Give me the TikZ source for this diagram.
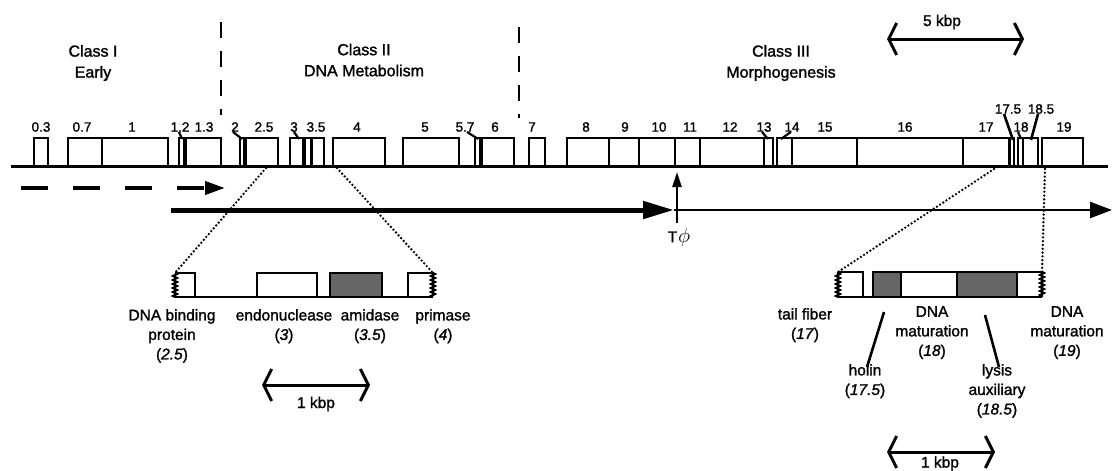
\documentclass[tikz,border=0pt]{standalone}
\usepackage{fontspec}
\setmainfont{Liberation Sans}[FakeBold=1.4]
\usetikzlibrary{arrows.meta,decorations.pathmorphing}
\begin{document}
\begin{tikzpicture}[
    x=1pt, y=-1pt,
    gene/.style={draw, line width=2.4pt},
    dna/.style={line width=3pt},
    shaded/.style={fill=black!60},
    wavy/.style={line width=2.2pt, decorate, decoration={zigzag, segment length=4pt, amplitude=2pt}},
    num/.style={font=\fontsize{13.5}{15}\selectfont, inner sep=0pt},
    cls/.style={align=center, font=\fontsize{16}{21}\selectfont, inner sep=0pt},
    desc/.style={align=center, anchor=north, font=\fontsize{15.5}{19.5}\selectfont, inner sep=0pt},
    hook/.style={line width=2.2pt},
    divider/.style={line width=2.6pt, dash pattern=on 16pt off 13pt},
    zoomline/.style={line width=2.6pt, line cap=round, dash pattern=on 0pt off 3.8pt},
    scalebar/.style={line width=3pt, {Straight Barb[length=8pt,width=32pt,line width=3pt]}-{Straight Barb[length=8pt,width=32pt,line width=3pt]}},
    label/.style={font=\fontsize{15.5}{18}\selectfont, inner sep=0pt}
]
\useasboundingbox (0,0) rectangle (1112,471);

% Classes
\node[cls] (class1) at (93,63) {Class I\\Early};
\node[cls] (class2) at (364,60) {Class II\\DNA Metabolism};
\node[cls] (class3) at (781,63) {Class III\\Morphogenesis};
\coordinate (d1top) at (221,22);
\coordinate (d1bot) at (221,115);
\coordinate (d2top) at (519,27);
\coordinate (d2bot) at (519,118);
\draw[divider] (d1top) -- (d1bot);
\draw[divider] (d2top) -- (d2bot);

% 5 kbp scale
\coordinate (s5a) at (887,39);
\coordinate (s5b) at (1024,39);
\draw[scalebar] (s5a) -- (s5b);
\node[label] (kbp5) at (942,22) {5 kbp};

% Genome
\coordinate (gstart) at (11,166);
\coordinate (gend) at (1108,166);
\draw[dna] (gstart) -- (gend);
\foreach \l/\r in {34/48, 68/102, 102/168, 179/184, 186/221, 240/244, 246/278,
    290/303, 305/311, 312/324, 333/385, 403/459, 475/480, 482/514, 529/545,
    567/609, 609/639, 639/675, 675/700, 700/764, 764/773, 777/792, 792/857,
    857/963, 963/1009, 1010/1014, 1018/1023, 1023/1038, 1042/1083}
    \draw[gene] (\l,166) rectangle (\r,138);

% Gene numbers
\foreach \x/\t/\n in {41/0.3/g0p3, 82/0.7/g0p7, 132/1/g1, 180/1.2/g1p2, 204/1.3/g1p3,
    235/2/g2, 264/2.5/g2p5, 294/3/g3, 316/3.5/g3p5, 357/4/g4, 425/5/g5,
    465/5.7/g5p7, 495/6/g6, 532/7/g7, 586/8/g8, 625/9/g9, 659/10/g10,
    690/11/g11, 730/12/g12, 764/13/g13, 792/14/g14, 825/15/g15, 905/16/g16,
    986/17/g17, 1021/18/g18, 1064/19/g19}
    \node[num] (\n) at (\x,127) {\t};
\node[num] (g17p5) at (1008,109) {17.5};
\node[num] (g18p5) at (1041,109) {18.5};

% Pointers to small genes
\coordinate (t1p2) at (182,139);
\coordinate (t2) at (242,139);
\coordinate (t3) at (299,139);
\coordinate (t5p7) at (478,139);
\coordinate (t13) at (768,139);
\coordinate (t14) at (781,139);
\coordinate (t18) at (1021,139);
\coordinate (t17p5) at (1013,140);
\coordinate (t18p5) at (1031,140);
\draw[hook] ([xshift=-1]g1p2.south) -- (t1p2);
\draw[hook] ([xshift=-2]g2.south) -- (t2);
\draw[hook] (g3.south) -- (t3);
\draw[hook] ([xshift=2]g5p7.south) -- (t5p7);
\draw[hook] ([xshift=-2]g13.south) -- (t13);
\draw[hook] ([xshift=-1]g14.south) -- (t14);
\draw[hook] ([xshift=-3]g18.south) -- (t18);
\draw[line width=2.6pt] ([xshift=-4]g17p5.south) -- (t17p5);
\draw[line width=2.6pt] ([xshift=-3]g18p5.south) -- (t18p5);

% Transcription
\coordinate (early) at (21,188);
\coordinate (earlyend) at (225,188);
\draw[line width=4pt, dash pattern=on 27pt off 25pt, -{Triangle[length=20pt,width=13pt]}] (early) -- (earlyend);
\coordinate (late) at (171,210);
\coordinate (tphi) at (674,210);
\coordinate (lateend) at (1112,210);
\draw[line width=5pt, -{Triangle[length=31pt,width=17pt]}] (late) -- (tphi);
\draw[line width=2.6pt, -{Triangle[length=22pt,width=16pt]}] (tphi) -- (lateend);
\node[label] (term) at (679,237) {T\kern1pt{\fontsize{20}{20}\selectfont$\phi$}};
\coordinate (termfoot) at (677,223);
\coordinate (termtip) at (677,172);
\draw[line width=2.4pt, -{Triangle[length=15pt,width=9pt]}] (termfoot) -- (termtip);

% Enlarged region 2.5 - 4
\coordinate (zl1) at (266,168);
\coordinate (zl2) at (337,168);
\coordinate (ll) at (175,273);
\coordinate (lr) at (433,273);
\draw[zoomline] (zl1) -- (ll);
\draw[zoomline] (zl2) -- (lr);
\draw[gene] (175,297) -- (433,297);
\draw[gene] (175,273) -- (195,273) -- (195,297);
\draw[wavy] (175,297) -- (ll);
\draw[gene] (257,297) rectangle (317,273);
\draw[gene, shaded] (330,297) rectangle (382,273);
\draw[gene] (408,297) -- (408,273) -- (lr);
\draw[wavy] (lr) -- (433,297);
\node[desc] (ssb) at (172,309) {DNA binding\\protein\\(\textit{2.5})};
\node[desc] (endo) at (284,309) {endonuclease\\(\textit{3})};
\node[desc] (amid) at (370,309) {amidase\\(\textit{3.5})};
\node[desc] (prim) at (443,309) {primase\\(\textit{4})};
\coordinate (s1a) at (262,385);
\coordinate (s1b) at (370,385);
\draw[scalebar] (s1a) -- (s1b);
\node[label] (kbp1) at (316,404) {1 kbp};

% Enlarged region 17 - 19
\coordinate (zr1) at (994,169);
\coordinate (zr2) at (1045,169);
\coordinate (rl) at (838,272);
\coordinate (rr) at (1042,272);
\draw[zoomline] (zr1) -- (rl);
\draw[zoomline] (zr2) -- (rr);
\draw[gene] (838,297) -- (1042,297);
\draw[gene] (rl) -- (863,272) -- (863,297);
\draw[wavy] (838,297) -- (rl);
\draw[gene, shaded] (873,297) rectangle (901,272);
\draw[gene] (901,272) -- (957,272);
\draw[gene, shaded] (957,297) rectangle (1017,272);
\draw[gene] (1017,272) -- (rr);
\draw[wavy] (rr) -- (1042,297);
\node[desc] (tail) at (805,308) {tail fiber\\(\textit{17})};
\node[desc] (mat18) at (932,306) {DNA\\maturation\\(\textit{18})};
\node[desc] (mat19) at (1067,306) {DNA\\maturation\\(\textit{19})};
\node[desc] (holin) at (865,364) {holin\\(\textit{17.5})};
\node[desc] (lysis) at (997,364) {lysis\\auxiliary\\(\textit{18.5})};
\coordinate (hb) at (884,312);
\coordinate (lb) at (985,315);
\draw[line width=2.6pt] ([xshift=2,yshift=-3]holin.north) -- (hb);
\draw[line width=2.6pt] ([xshift=2,yshift=-3]lysis.north) -- (lb);
\coordinate (s2a) at (887,452);
\coordinate (s2b) at (995,452);
\draw[scalebar] (s2a) -- (s2b);
\node[label, anchor=south] (kbp2) at (940,471) {1 kbp};
\end{tikzpicture}
\end{document}
